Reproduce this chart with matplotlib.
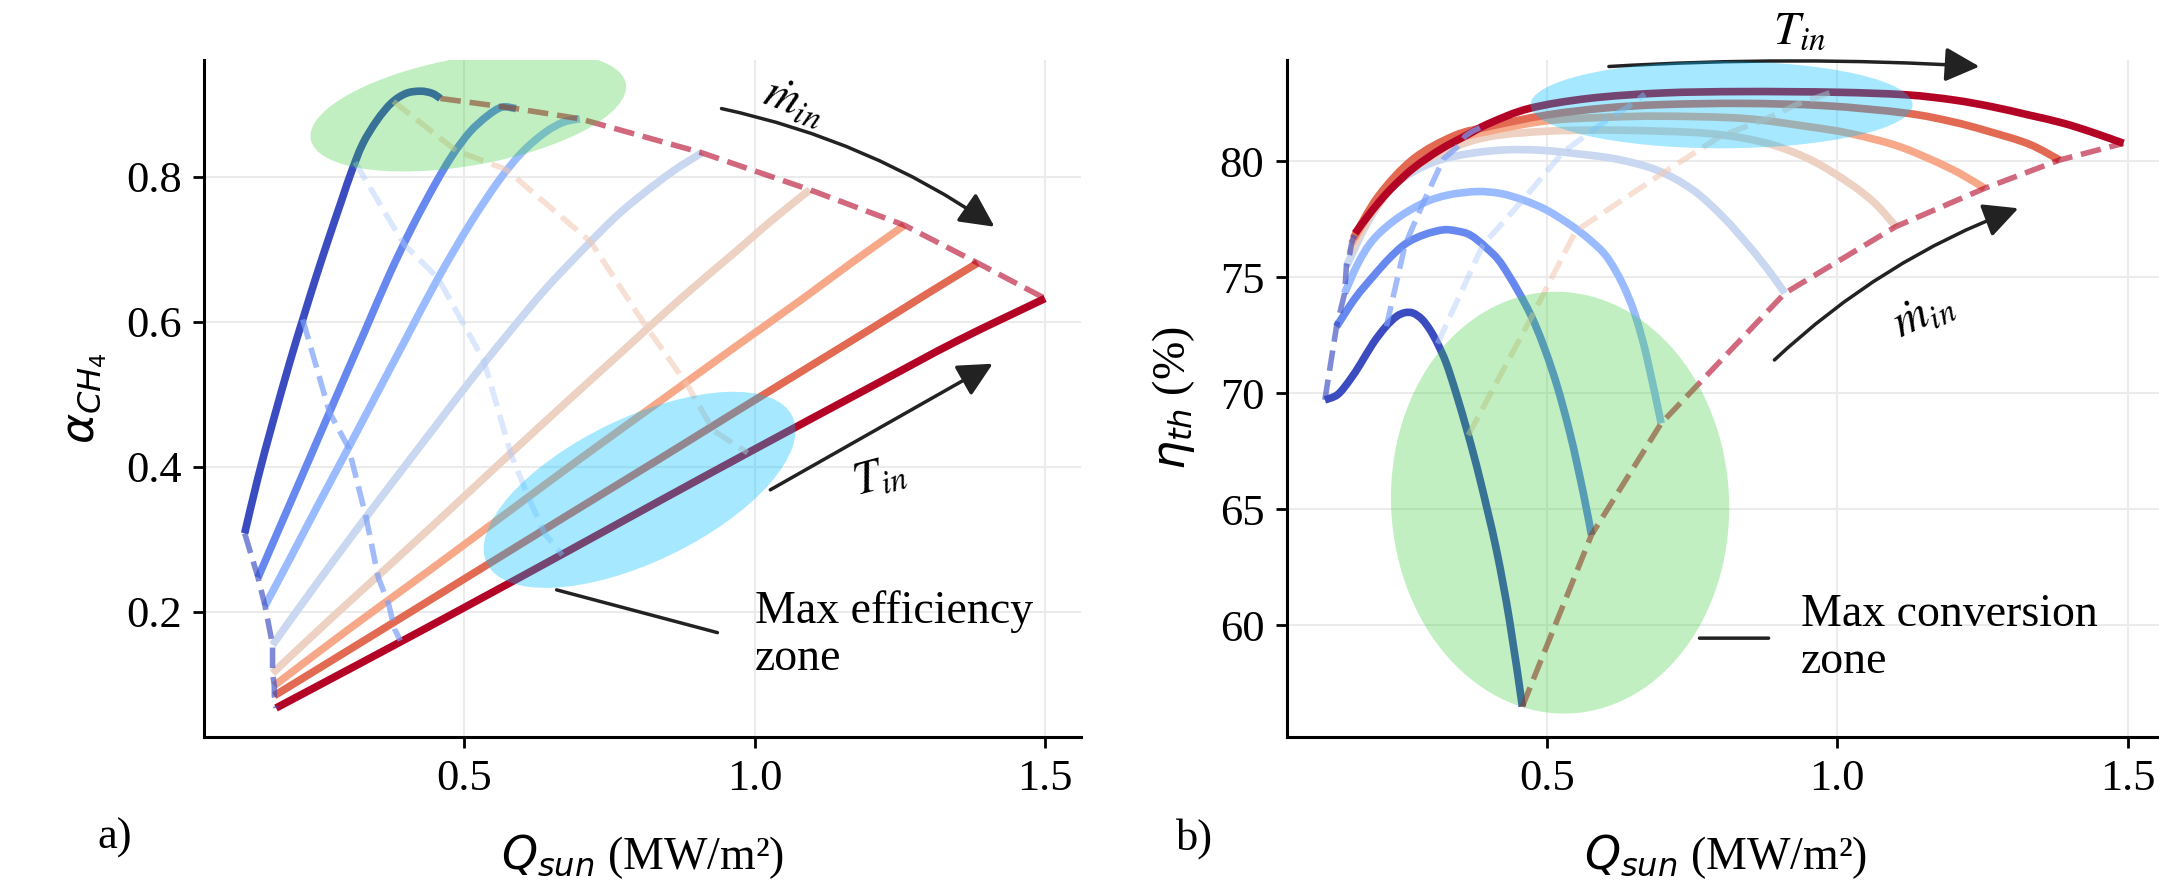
import matplotlib
matplotlib.use("Agg")
import matplotlib.pyplot as plt
import numpy as np
from matplotlib.patches import Ellipse, PathPatch
from matplotlib.path import Path
from matplotlib.transforms import ScaledTranslation

plt.rcParams['font.family'] = 'serif'
plt.rcParams['font.serif'] = ['Liberation Serif', 'DejaVu Serif']
plt.rcParams['mathtext.fontset'] = 'dejavusans'
plt.rcParams.update({'font.size': 32,
                     'axes.spines.top': False, 'axes.spines.right': False,
                     'axes.linewidth': 2.2,
                     'xtick.major.size': 8, 'ytick.major.size': 8,
                     'xtick.major.width': 2, 'ytick.major.width': 2,
                     'xtick.major.pad': 8, 'ytick.major.pad': 8})

# --- a) CH4 conversion vs solar flux, one curve per inlet temperature ---
qa = [
    [0.122, 0.145, 0.170, 0.200, 0.222, 0.245, 0.268, 0.290, 0.305, 0.325, 0.350, 0.375, 0.400, 0.425, 0.445, 0.459],
    [0.145, 0.180, 0.212, 0.260, 0.300, 0.330, 0.370, 0.410, 0.450, 0.480, 0.510, 0.540, 0.565, 0.589],
    [0.157, 0.200, 0.245, 0.300, 0.344, 0.400, 0.455, 0.510, 0.560, 0.600, 0.639, 0.670, 0.699],
    [0.170, 0.240, 0.311, 0.380, 0.442, 0.510, 0.574, 0.640, 0.705, 0.760, 0.804, 0.860, 0.909],
    [0.170, 0.270, 0.377, 0.480, 0.574, 0.680, 0.771, 0.870, 0.968, 1.030, 1.095],
    [0.173, 0.300, 0.442, 0.580, 0.705, 0.840, 0.968, 1.080, 1.170, 1.258],
    [0.173, 0.350, 0.508, 0.680, 0.837, 0.960, 1.078, 1.200, 1.300, 1.384],
    [0.176, 0.350, 0.508, 0.680, 0.837, 1.000, 1.200, 1.350, 1.500],
]
alpha_ch4 = [
    [0.308, 0.385, 0.460, 0.545, 0.603, 0.662, 0.718, 0.770, 0.805, 0.845, 0.878, 0.902, 0.915, 0.918, 0.915, 0.908],
    [0.247, 0.312, 0.371, 0.460, 0.534, 0.589, 0.663, 0.730, 0.790, 0.830, 0.862, 0.884, 0.896, 0.894],
    [0.208, 0.273, 0.342, 0.425, 0.492, 0.577, 0.660, 0.735, 0.795, 0.834, 0.861, 0.875, 0.880],
    [0.154, 0.232, 0.309, 0.382, 0.447, 0.518, 0.582, 0.645, 0.700, 0.744, 0.774, 0.808, 0.833],
    [0.115, 0.190, 0.268, 0.344, 0.414, 0.492, 0.558, 0.630, 0.697, 0.740, 0.782],
    [0.098, 0.175, 0.258, 0.340, 0.414, 0.492, 0.566, 0.630, 0.683, 0.733],
    [0.084, 0.171, 0.249, 0.334, 0.411, 0.472, 0.530, 0.590, 0.640, 0.681],
    [0.067, 0.141, 0.209, 0.284, 0.353, 0.424, 0.510, 0.574, 0.632],
]
# iso mass-flow lines crossing the curves
iso_qa = [
    [0.222, 0.268, 0.301, 0.331, 0.352, 0.370, 0.380, 0.390],
    [0.312, 0.396, 0.455, 0.534, 0.580, 0.613, 0.639, 0.669],
    [0.378, 0.486, 0.572, 0.718, 0.810, 0.883, 0.929, 0.988],
]
iso_alpha = [
    [0.603, 0.475, 0.426, 0.330, 0.247, 0.210, 0.176, 0.160],
    [0.820, 0.707, 0.660, 0.546, 0.418, 0.353, 0.307, 0.278],
    [0.904, 0.836, 0.810, 0.710, 0.597, 0.514, 0.450, 0.419],
]

# --- b) thermal efficiency vs solar flux ---
qb = [
    [0.118, 0.140, 0.161, 0.180, 0.201, 0.222, 0.241, 0.256, 0.270, 0.285, 0.299, 0.312, 0.327, 0.344, 0.365, 0.385, 0.413, 0.436, 0.458],
    [0.138, 0.170, 0.201, 0.230, 0.258, 0.290, 0.322, 0.345, 0.368, 0.395, 0.425, 0.474, 0.511, 0.540, 0.563, 0.577],
    [0.152, 0.175, 0.201, 0.240, 0.287, 0.330, 0.379, 0.420, 0.459, 0.500, 0.545, 0.575, 0.603, 0.630, 0.652, 0.672, 0.697],
    [0.155, 0.190, 0.230, 0.270, 0.316, 0.370, 0.431, 0.490, 0.545, 0.620, 0.689, 0.750, 0.803, 0.850, 0.885, 0.910],
    [0.161, 0.200, 0.258, 0.330, 0.402, 0.500, 0.600, 0.700, 0.775, 0.840, 0.898, 0.960, 1.021, 1.065, 1.101],
    [0.164, 0.210, 0.270, 0.340, 0.400, 0.500, 0.600, 0.700, 0.840, 0.950, 1.021, 1.100, 1.160, 1.210, 1.254],
    [0.167, 0.210, 0.270, 0.340, 0.400, 0.500, 0.600, 0.700, 0.840, 0.980, 1.119, 1.200, 1.260, 1.330, 1.383],
    [0.170, 0.200, 0.230, 0.270, 0.316, 0.360, 0.402, 0.471, 0.574, 0.700, 0.837, 1.000, 1.119, 1.200, 1.266, 1.330, 1.389, 1.440, 1.493],
]
eta_th = [
    [69.72, 69.95, 70.58, 71.30, 72.16, 72.85, 73.31, 73.48, 73.46, 73.20, 72.74, 72.15, 71.30, 70.00, 68.20, 66.30, 63.30, 60.20, 56.50],
    [72.88, 74.10, 75.04, 75.85, 76.47, 76.85, 77.05, 77.00, 76.83, 76.30, 75.47, 73.30, 70.87, 68.28, 65.70, 63.90],
    [74.32, 75.60, 76.62, 77.50, 78.20, 78.55, 78.70, 78.62, 78.34, 77.90, 77.19, 76.60, 75.90, 74.75, 73.40, 71.60, 68.71],
    [75.47, 77.30, 78.77, 79.55, 80.06, 80.35, 80.50, 80.48, 80.35, 80.10, 79.63, 78.80, 77.62, 76.30, 75.20, 74.32],
    [76.04, 77.80, 79.49, 80.50, 81.07, 81.30, 81.35, 81.30, 81.21, 81.00, 80.64, 80.00, 79.06, 78.20, 77.19],
    [76.47, 78.30, 79.90, 80.90, 81.30, 81.75, 81.90, 81.95, 81.85, 81.50, 81.21, 80.70, 80.10, 79.50, 78.84],
    [76.69, 78.50, 80.10, 81.10, 81.50, 82.00, 82.30, 82.45, 82.50, 82.40, 82.08, 81.70, 81.30, 80.75, 80.06],
    [76.90, 77.90, 78.77, 79.70, 80.50, 81.10, 81.65, 82.29, 82.72, 82.95, 83.01, 82.98, 82.87, 82.65, 82.36, 82.00, 81.65, 81.25, 80.78],
]
iso_qb = [
    [0.224, 0.256, 0.287, 0.322, 0.345, 0.360, 0.372, 0.385],
    [0.312, 0.390, 0.459, 0.528, 0.580, 0.610, 0.640, 0.669],
    [0.365, 0.474, 0.550, 0.700, 0.800, 0.870, 0.930, 0.990],
]
iso_eta = [
    [72.90, 76.40, 78.20, 80.10, 80.60, 81.10, 81.30, 81.45],
    [72.15, 76.40, 78.34, 80.40, 81.35, 81.90, 82.35, 82.90],
    [68.20, 73.30, 77.00, 79.50, 81.10, 81.75, 82.45, 82.98],
]

cmap = plt.get_cmap('coolwarm')
colors = cmap(np.linspace(0, 1, 8))
iso_style = [(cmap(0.2), 0.7), (cmap(0.35), 0.45), (cmap(0.62), 0.55)]

fig = plt.figure(figsize=(21.59, 8.84), dpi=100)
ax1 = fig.add_axes([0.0945, 0.1663, 0.4062, 0.7658])
ax2 = fig.add_axes([0.5959, 0.1663, 0.4062, 0.7658])


def smooth_path(x, y):
    # catmull-rom through the points, written as cubic bezier segments
    p = np.column_stack([x, y])
    ext = np.vstack([p[0], p, p[-1]])
    verts, codes = [p[0]], [Path.MOVETO]
    for i in range(len(p) - 1):
        p0, p1, p2, p3 = ext[i], ext[i + 1], ext[i + 2], ext[i + 3]
        verts += [p1 + (p2 - p0) / 6, p2 - (p3 - p1) / 6, p2]
        codes += [Path.CURVE4] * 3
    return Path(verts, codes)


def draw_panel(ax, xs, ys, iso_x, iso_y):
    for i in range(len(xs)):
        ax.add_patch(PathPatch(smooth_path(xs[i], ys[i]), fill=False, edgecolor=colors[i],
                               lw=5.5, capstyle='butt', zorder=3))
    # start and end points of every curve joined up
    ax.plot([x[0] for x in xs], [y[0] for y in ys], '--', color=cmap(0.0), alpha=0.65, lw=4, zorder=4)
    for k in range(len(iso_x)):
        c, a = iso_style[k]
        ax.plot(iso_x[k], iso_y[k], '--', color=c, alpha=a, lw=4, zorder=4)
    ax.plot([x[-1] for x in xs], [y[-1] for y in ys], '--', color=cmap(1.0), alpha=0.6, lw=4, zorder=4)
    ax.grid(True, color='#ebebeb', lw=1.5, zorder=0)
    ax.set_axisbelow(True)
    ax.set_xlim(0.052, 1.562)
    ax.set_xticks([0.5, 1.0, 1.5])
    ax.set_xlabel(r'$Q_{sun}$ (MW/m²)', fontsize=33, labelpad=24)


def zone(ax, xy, w, h, angle, color, alpha):
    tr = fig.dpi_scale_trans + ScaledTranslation(xy[0], xy[1], ax.transData)
    ax.add_patch(Ellipse((0, 0), w, h, angle=angle, transform=tr,
                         facecolor=color, edgecolor='none', alpha=alpha, zorder=5))


arrow = dict(arrowstyle='-|>,head_length=0.7,head_width=0.35', mutation_scale=30,
             color='#222222', lw=2.5, shrinkA=0, shrinkB=0)

draw_panel(ax1, qa, alpha_ch4, iso_qa, iso_alpha)
ax1.set_ylim(0.027, 0.961)
ax1.set_yticks([0.2, 0.4, 0.6, 0.8])
ax1.set_ylabel(r'$\alpha_{CH_4}$', fontsize=33, labelpad=12)
zone(ax1, (0.507, 0.890), 3.20, 1.08, 10, 'limegreen', 0.3)
zone(ax1, (0.802, 0.368), 3.39, 1.44, 25.7, 'deepskyblue', 0.35)
ax1.annotate('', xy=(1.413, 0.731), xytext=(0.943, 0.894),
             arrowprops=dict(arrow, connectionstyle='arc3,rad=-0.1'))
ax1.text(1.068, 0.901, r'$\dot{m}_{in}$', rotation=-20, math_fontfamily='stix',
         fontsize=34, ha='center', va='center')
ax1.annotate('', xy=(1.410, 0.542), xytext=(1.027, 0.368), arrowprops=arrow)
ax1.text(1.215, 0.385, r'$T_{in}$', rotation=15, math_fontfamily='stix',
         fontsize=34, ha='center', va='center')
ax1.annotate('', xy=(0.659, 0.230), xytext=(0.936, 0.171),
             arrowprops=dict(arrowstyle='-', lw=2.5, color='#222222', shrinkA=0, shrinkB=0))
ax1.text(1.0, 0.168, 'Max efficiency\nzone', ha='left', va='center', fontsize=33, linespacing=1.15)

draw_panel(ax2, qb, eta_th, iso_qb, iso_eta)
ax2.set_ylim(55.19, 84.37)
ax2.set_yticks([60, 65, 70, 75, 80])
ax2.set_ylabel(r'$\eta_{th}$ (%)', fontsize=33, labelpad=16)
zone(ax2, (0.801, 82.44), 3.82, 0.87, 0, 'deepskyblue', 0.35)
zone(ax2, (0.523, 65.29), 3.38, 4.22, 3, 'limegreen', 0.3)
ax2.annotate('', xy=(1.245, 84.09), xytext=(0.607, 84.09),
             arrowprops=dict(arrow, connectionstyle='arc3,rad=-0.03'), annotation_clip=False)
ax2.text(0.935, 85.58, r'$T_{in}$', math_fontfamily='stix', fontsize=34,
         ha='center', va='center', clip_on=False)
ax2.annotate('', xy=(1.312, 77.98), xytext=(0.892, 71.44),
             arrowprops=dict(arrow, connectionstyle='arc3,rad=-0.1'))
ax2.text(1.149, 73.38, r'$\dot{m}_{in}$', rotation=25, math_fontfamily='stix',
         fontsize=34, ha='center', va='center')
ax2.annotate('', xy=(0.763, 59.45), xytext=(0.882, 59.45),
             arrowprops=dict(arrowstyle='-', lw=2.5, color='#222222', shrinkA=0, shrinkB=0))
ax2.text(0.938, 59.45, 'Max conversion\nzone', ha='left', va='center', fontsize=33, linespacing=1.15)

fig.text(0.0533, 0.052, 'a)', fontsize=32, ha='center', va='center')
fig.text(0.5535, 0.052, 'b)', fontsize=32, ha='center', va='center')

fig.savefig('out.png', dpi=100)
